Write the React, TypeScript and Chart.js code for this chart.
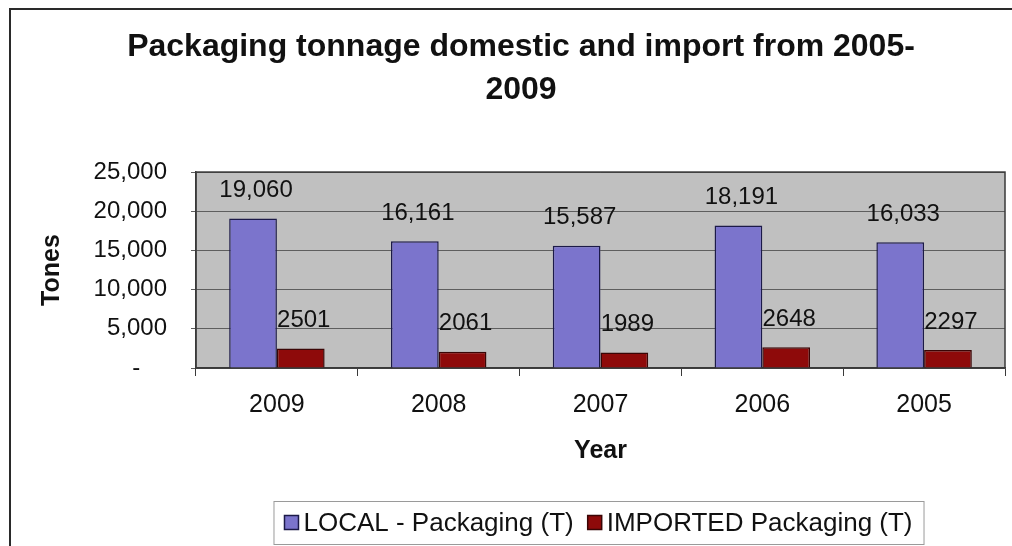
import React, { useEffect, useRef } from 'react';
import { Chart, registerables } from 'chart.js';

Chart.register(...registerables);

const categories = ['2009', '2008', '2007', '2006', '2005'];
const localValues = [19060, 16161, 15587, 18191, 16033];
const importedValues = [2501, 2061, 1989, 2648, 2297];
const seriesNames = ['LOCAL - Packaging (T)', 'IMPORTED Packaging (T)'];
const localLabels = ['19,060', '16,161', '15,587', '18,191', '16,033'];
const importedLabels = ['2501', '2061', '1989', '2648', '2297'];
const yTickValues = [0, 5000, 10000, 15000, 20000, 25000];
const yTickLabels = ['-    ', '5,000', '10,000', '15,000', '20,000', '25,000'];
const titleLines = ['Packaging tonnage domestic and import from 2005-', '2009'];
const xTitle = 'Year';
const yTitle = 'Tones';

const FONT = "'Liberation Sans', Arial, sans-serif";
const LOCAL_COLOR = '#7b74cc';
const LOCAL_BORDER = '#1c1a48';
const IMPORTED_COLOR = '#8e0a0a';
const IMPORTED_BORDER = '#3a0505';
const PLOT_BG = '#c0c0c0';

const framePlugin = {
  id: 'frame',
  beforeDraw(chart: any) {
    const { ctx, width, height, chartArea } = chart;
    ctx.save();
    ctx.fillStyle = '#ffffff';
    ctx.fillRect(0, 0, width, height);
    ctx.strokeStyle = '#2a2a2a';
    ctx.lineWidth = 2;
    ctx.beginPath();
    ctx.moveTo(10, height);
    ctx.lineTo(10, 9);
    ctx.lineTo(width, 9);
    ctx.stroke();
    ctx.fillStyle = PLOT_BG;
    ctx.fillRect(chartArea.left, chartArea.top, chartArea.right - chartArea.left, chartArea.bottom - chartArea.top);
    ctx.restore();
  },
  beforeDatasetsDraw(chart: any) {
    const { ctx, chartArea } = chart;
    ctx.save();
    ctx.strokeStyle = '#3a3a3a';
    ctx.lineWidth = 1.5;
    ctx.strokeRect(chartArea.left, chartArea.top, chartArea.right - chartArea.left, chartArea.bottom - chartArea.top);
    ctx.restore();
  },
};

const dataLabelPlugin = {
  id: 'dataLabels',
  afterDatasetsDraw(chart: any) {
    const { ctx } = chart;
    const labelSets = [localLabels, importedLabels];
    ctx.save();
    ctx.font = `24px ${FONT}`;
    ctx.fillStyle = '#111111';
    ctx.textAlign = 'center';
    ctx.textBaseline = 'middle';
    chart.data.datasets.forEach((_ds: any, di: number) => {
      const meta = chart.getDatasetMeta(di);
      meta.data.forEach((bar: any, i: number) => {
        ctx.fillText(labelSets[di][i], bar.x + 3, bar.y - 28);
      });
    });
    ctx.restore();
  },
};

const legendPlugin = {
  id: 'customLegend',
  afterDraw(chart: any) {
    const { ctx, chartArea } = chart;
    ctx.save();
    ctx.font = `26px ${FONT}`;
    const sq = 14;
    const gap = 5;
    const itemGap = 14;
    const widths = seriesNames.map((n) => ctx.measureText(n).width);
    const total = sq + gap + widths[0] + itemGap + sq + gap + widths[1];
    const padX = 11;
    const cx = (chartArea.left + chartArea.right) / 2 - 2;
    const boxW = total + padX * 2;
    const boxL = cx - boxW / 2;
    const boxT = 501;
    const boxH = 43;
    ctx.fillStyle = '#ffffff';
    ctx.fillRect(boxL, boxT, boxW, boxH);
    ctx.strokeStyle = '#9a9a9a';
    ctx.lineWidth = 1;
    ctx.strokeRect(boxL + 0.5, boxT + 0.5, boxW, boxH);
    const cy = boxT + boxH / 2;
    let x = boxL + padX;
    const colors = [LOCAL_COLOR, IMPORTED_COLOR];
    const borders = [LOCAL_BORDER, IMPORTED_BORDER];
    seriesNames.forEach((name, i) => {
      ctx.fillStyle = colors[i];
      ctx.fillRect(x, cy - sq / 2, sq, sq);
      ctx.strokeStyle = borders[i];
      ctx.lineWidth = 1.5;
      ctx.strokeRect(x, cy - sq / 2, sq, sq);
      x += sq + gap;
      ctx.fillStyle = '#111111';
      ctx.textAlign = 'left';
      ctx.textBaseline = 'middle';
      ctx.fillText(name, x, cy + 1);
      x += widths[i] + itemGap;
    });
    ctx.restore();
  },
};

export default function App() {
  const canvasRef = useRef<HTMLCanvasElement | null>(null);

  useEffect(() => {
    if (!canvasRef.current) return;
    const chart = new Chart(canvasRef.current, {
      type: 'bar',
      data: {
        labels: categories,
        datasets: [
          {
            label: seriesNames[0],
            data: localValues,
            backgroundColor: LOCAL_COLOR,
            borderColor: LOCAL_BORDER,
            borderWidth: 1.5,
            categoryPercentage: 0.59,
            barPercentage: 1.0,
          },
          {
            label: seriesNames[1],
            data: importedValues,
            backgroundColor: IMPORTED_COLOR,
            borderColor: IMPORTED_BORDER,
            borderWidth: 1.5,
            categoryPercentage: 0.59,
            barPercentage: 1.0,
          },
        ],
      },
      options: {
        responsive: true,
        maintainAspectRatio: false,
        animation: false,
        layout: { padding: { left: 37, right: 7, top: 0, bottom: 0 } },
        plugins: {
          legend: { display: false },
          tooltip: { enabled: false },
          title: {
            display: true,
            text: titleLines,
            color: '#111111',
            font: { family: FONT, size: 32, weight: 'bold', lineHeight: 1.36 },
            padding: { top: 25, bottom: 60 },
          },
        },
        scales: {
          x: {
            afterFit: (scale: any) => {
              scale.height = 178;
            },
            grid: {
              display: true,
              drawOnChartArea: false,
              drawTicks: true,
              tickLength: 8,
              color: '#3a3a3a',
            },
            border: { display: true, color: '#3a3a3a', width: 1.5 },
            ticks: {
              color: '#111111',
              padding: 14,
              font: { family: FONT, size: 25 },
            },
            title: {
              display: true,
              text: xTitle,
              color: '#111111',
              font: { family: FONT, size: 25, weight: 'bold' },
              padding: { top: 0, bottom: 80 },
            },
          },
          y: {
            min: 0,
            max: 25000,
            afterFit: (scale: any) => {
              scale.width = 159;
            },
            grid: {
              color: '#5e5e5e',
              lineWidth: 1,
              drawTicks: true,
              tickLength: 5,
            },
            border: { display: true, color: '#3a3a3a', width: 1.5 },
            ticks: {
              stepSize: 5000,
              color: '#111111',
              padding: 24,
              font: { family: FONT, size: 24 },
              callback: (value: any) => {
                const idx = yTickValues.indexOf(Number(value));
                return idx >= 0 ? yTickLabels[idx] : '';
              },
            },
            title: {
              display: true,
              text: yTitle,
              color: '#111111',
              font: { family: FONT, size: 25, weight: 'bold' },
              padding: { top: 0, bottom: 0 },
            },
          },
        },
      },
      plugins: [framePlugin, dataLabelPlugin, legendPlugin],
    });
    return () => chart.destroy();
  }, []);

  return (
    <div style={{ position: 'absolute', left: 0, top: 0, width: 1012, height: 546 }}>
      <canvas ref={canvasRef} />
    </div>
  );
}
